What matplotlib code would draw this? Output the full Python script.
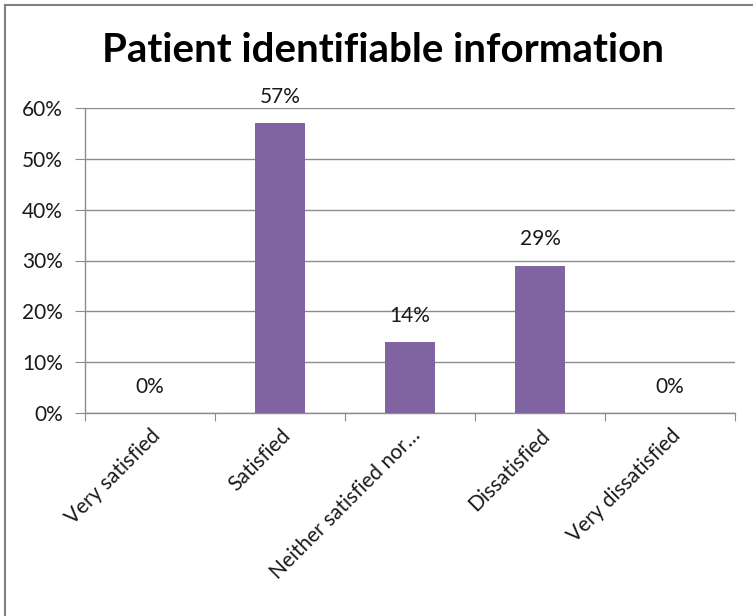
import matplotlib.pyplot as plt
from matplotlib.lines import Line2D
from matplotlib.ticker import PercentFormatter

categories = ['Very satisfied', 'Satisfied', 'Neither satisfied nor\u2026',
              'Dissatisfied', 'Very dissatisfied']
values = [0, 57, 14, 29, 0]
y_ticks = [0, 10, 20, 30, 40, 50, 60]

plt.rcParams['font.family'] = ['Lato', 'DejaVu Sans']
bar_color = '#8064a2'
grid_color = '#8c8c8c'
text_color = '#1a1a1a'
fsize = 15

fig = plt.figure(figsize=(7.53, 6.16), dpi=100)
ax = fig.add_axes([85 / 753, 1 - 413 / 616, 650 / 753, 305 / 616])

x = list(range(len(categories)))
bars = ax.bar(x, values, width=0.39, color=bar_color, zorder=3)
for xi, v in zip(x, values):
    ax.text(xi, v + 3.2, '%d%%' % v, ha='center', va='bottom',
            fontsize=fsize, color=text_color)

ax.set_xlim(-0.5, len(categories) - 0.5)
ax.set_ylim(0, 60)
ax.set_yticks(y_ticks)
ax.yaxis.set_major_formatter(PercentFormatter(decimals=0))
ax.grid(axis='y', color=grid_color, linewidth=1, zorder=0)

# category ticks sit between the bars
ax.set_xticks([i - 0.5 for i in range(len(categories) + 1)])
ax.set_xticklabels([])
ax.set_xticks(x, minor=True)
ax.set_xticklabels(categories, minor=True, rotation=45, ha='right',
                   rotation_mode='anchor', fontsize=fsize, color=text_color)
ax.tick_params(axis='x', which='minor', length=0, pad=9)
ax.tick_params(axis='x', which='major', length=6, color=grid_color,
               direction='out')
ax.tick_params(axis='y', length=7, color=grid_color, labelsize=fsize,
               labelcolor=text_color, pad=9)

for s in ['top', 'right']:
    ax.spines[s].set_visible(False)
for s in ['left', 'bottom']:
    ax.spines[s].set_color(grid_color)
    ax.spines[s].set_linewidth(1)

fig.text(383 / 753, 1 - 51 / 616, 'Patient identifiable information',
         ha='center', va='center', fontsize=29, fontweight='bold')

# outer chart frame (left and top only visible)
fig.add_artist(Line2D([4.5 / 753, 4.5 / 753], [0, 1 - 4.5 / 616],
                      color='#808080', linewidth=1.5))
fig.add_artist(Line2D([4.5 / 753, 1], [1 - 4.5 / 616, 1 - 4.5 / 616],
                      color='#808080', linewidth=1.5))

fig.savefig('out.png', dpi=100)
